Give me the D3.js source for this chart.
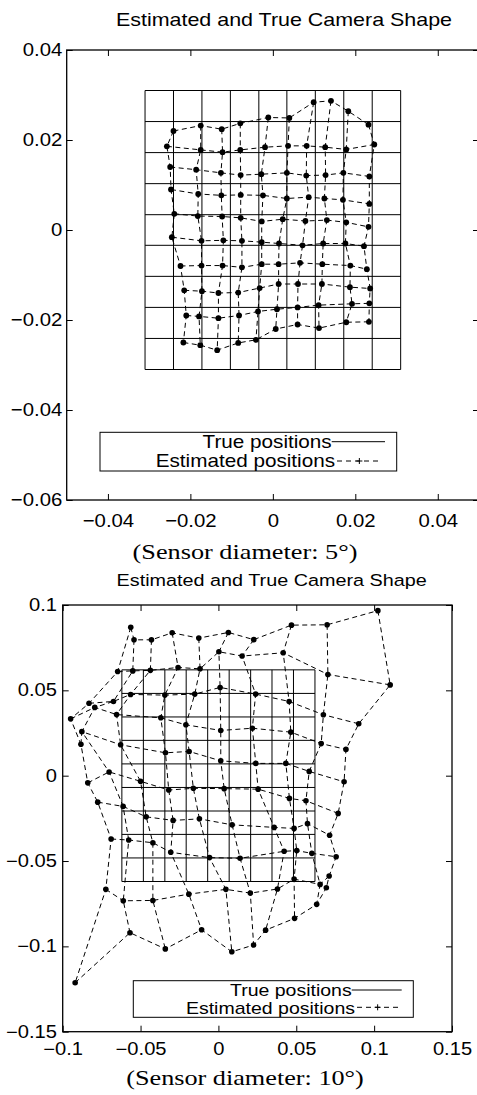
<!DOCTYPE html>
<html>
<head>
<meta charset="utf-8">
<script src="https://cdn.jsdelivr.net/npm/d3@7"></script>
<style>
  body { margin: 0; background: #fff; }
  svg { display: block; }
</style>
</head>
<body>
<svg width="477" height="1095"></svg>
<script>
// true camera positions (same values for x and y), 5 deg and 10 deg sensors
const trueGrid5 = [-0.031, -0.0241, -0.0172, -0.0103, -0.0034, 0.0034, 0.0103, 0.0172, 0.0241, 0.031];
const trueGrid10 = [-0.062, -0.0482, -0.0344, -0.0207, -0.0069, 0.0069, 0.0207, 0.0344, 0.0482, 0.062];

// estimated positions, 10 rows x 10 columns, [x, y]
const est5 = [
  [[-0.0241,0.0220],[-0.0175,0.0232],[-0.0124,0.0224],[-0.0079,0.0237],[-0.0011,0.0250],[0.0040,0.0249],[0.0099,0.0284],[0.0141,0.0287],[0.0183,0.0264],[0.0232,0.0234]],
  [[-0.0257,0.0186],[-0.0175,0.0178],[-0.0122,0.0173],[-0.0079,0.0178],[-0.0019,0.0184],[0.0037,0.0187],[0.0082,0.0187],[0.0127,0.0184],[0.0178,0.0179],[0.0246,0.0190]],
  [[-0.0249,0.0140],[-0.0186,0.0134],[-0.0126,0.0127],[-0.0078,0.0122],[-0.0028,0.0124],[0.0034,0.0127],[0.0081,0.0121],[0.0128,0.0122],[0.0171,0.0127],[0.0234,0.0119]],
  [[-0.0247,0.0090],[-0.0181,0.0080],[-0.0125,0.0077],[-0.0078,0.0078],[-0.0024,0.0077],[0.0034,0.0070],[0.0087,0.0073],[0.0125,0.0070],[0.0170,0.0067],[0.0234,0.0058]],
  [[-0.0239,0.0036],[-0.0182,0.0031],[-0.0123,0.0030],[-0.0078,0.0027],[-0.0027,0.0019],[0.0024,0.0024],[0.0079,0.0020],[0.0131,0.0022],[0.0178,0.0017],[0.0232,0.0007]],
  [[-0.0245,-0.0016],[-0.0173,-0.0024],[-0.0120,-0.0023],[-0.0075,-0.0024],[-0.0027,-0.0027],[0.0015,-0.0030],[0.0072,-0.0034],[0.0122,-0.0030],[0.0176,-0.0030],[0.0221,-0.0036]],
  [[-0.0224,-0.0080],[-0.0173,-0.0079],[-0.0122,-0.0079],[-0.0075,-0.0083],[-0.0027,-0.0076],[0.0014,-0.0076],[0.0066,-0.0073],[0.0120,-0.0076],[0.0188,-0.0079],[0.0228,-0.0087]],
  [[-0.0215,-0.0134],[-0.0172,-0.0136],[-0.0132,-0.0140],[-0.0084,-0.0139],[-0.0032,-0.0129],[0.0014,-0.0120],[0.0061,-0.0120],[0.0119,-0.0120],[0.0187,-0.0127],[0.0236,-0.0130]],
  [[-0.0210,-0.0190],[-0.0179,-0.0192],[-0.0132,-0.0196],[-0.0082,-0.0190],[-0.0036,-0.0181],[0.0010,-0.0176],[0.0060,-0.0172],[0.0111,-0.0167],[0.0192,-0.0164],[0.0234,-0.0163]],
  [[-0.0217,-0.0250],[-0.0176,-0.0256],[-0.0135,-0.0267],[-0.0084,-0.0251],[-0.0041,-0.0244],[0.0007,-0.0220],[0.0060,-0.0210],[0.0112,-0.0218],[0.0178,-0.0205],[0.0233,-0.0204]]
];

const est10 = [
  [[-0.0563,0.0869],[-0.0542,0.0796],[-0.0430,0.0796],[-0.0297,0.0837],[-0.0126,0.0806],[0.0064,0.0839],[0.0227,0.0797],[0.0469,0.0882],[0.0698,0.0884],[0.1024,0.0967]],
  [[-0.0647,0.0610],[-0.0550,0.0614],[-0.0437,0.0617],[-0.0259,0.0634],[-0.0118,0.0626],[0.0003,0.0726],[0.0152,0.0701],[0.0416,0.0720],[0.0703,0.0593],[0.1103,0.0532]],
  [[-0.0831,0.0424],[-0.0674,0.0435],[-0.0564,0.0476],[-0.0344,0.0472],[-0.0152,0.0478],[0.0011,0.0517],[0.0239,0.0478],[0.0454,0.0435],[0.0674,0.0357],[0.0901,0.0304]],
  [[-0.0949,0.0333],[-0.0794,0.0400],[-0.0654,0.0358],[-0.0370,0.0339],[-0.0209,0.0298],[0.0015,0.0265],[0.0218,0.0278],[0.0465,0.0255],[0.0660,0.0188],[0.0819,0.0154]],
  [[-0.0883,0.0184],[-0.0877,0.0258],[-0.0628,0.0181],[-0.0340,0.0134],[-0.0188,0.0142],[0.0015,0.0087],[0.0240,0.0072],[0.0433,0.0072],[0.0583,0.0025],[0.0807,-0.0036]],
  [[-0.0839,-0.0042],[-0.0702,0.0022],[-0.0500,-0.0033],[-0.0319,-0.0084],[-0.0161,-0.0074],[0.0037,-0.0076],[0.0255,-0.0079],[0.0456,-0.0133],[0.0562,-0.0147],[0.0769,-0.0221]],
  [[-0.0775,-0.0155],[-0.0612,-0.0180],[-0.0464,-0.0241],[-0.0291,-0.0262],[-0.0122,-0.0253],[0.0088,-0.0288],[0.0358,-0.0303],[0.0486,-0.0309],[0.0572,-0.0281],[0.0714,-0.0349]],
  [[-0.0689,-0.0371],[-0.0576,-0.0377],[-0.0421,-0.0393],[-0.0306,-0.0449],[-0.0057,-0.0480],[0.0139,-0.0484],[0.0422,-0.0443],[0.0503,-0.0439],[0.0600,-0.0455],[0.0756,-0.0475]],
  [[-0.0723,-0.0666],[-0.0611,-0.0733],[-0.0421,-0.0731],[-0.0190,-0.0694],[0.0048,-0.0666],[0.0205,-0.0688],[0.0379,-0.0664],[0.0486,-0.0606],[0.0653,-0.0637],[0.0711,-0.0588]],
  [[-0.0920,-0.1213],[-0.0568,-0.0920],[-0.0341,-0.1015],[-0.0108,-0.0903],[0.0086,-0.1032],[0.0226,-0.0992],[0.0303,-0.0905],[0.0489,-0.0836],[0.0631,-0.0754],[0.0693,-0.0657]]
];

// axes
const xTicks5 = [-0.04, -0.02, 0, 0.02, 0.04];
const xLabels5 = ["\u22120.04", "\u22120.02", "0", "0.02", "0.04"];
const yTicks5 = [-0.06, -0.04, -0.02, 0, 0.02, 0.04];
const yLabels5 = ["\u22120.06", "\u22120.04", "\u22120.02", "0", "0.02", "0.04"];
const xTicks10 = [-0.1, -0.05, 0, 0.05, 0.1, 0.15];
const xLabels10 = ["\u22120.1", "\u22120.05", "0", "0.05", "0.1", "0.15"];
const yTicks10 = [-0.15, -0.1, -0.05, 0, 0.05, 0.1];
const yLabels10 = ["\u22120.15", "\u22120.1", "\u22120.05", "0", "0.05", "0.1"];

const title = "Estimated and True Camera Shape";
const captions = ["(Sensor diameter: 5\u00b0)", "(Sensor diameter: 10\u00b0)"];
const legendLabels = ["True positions", "Estimated positions"];

const svg = d3.select("svg");
const SANS = "'Liberation Sans', Arial, Helvetica, sans-serif";
const SERIF = "'Liberation Serif', 'Times New Roman', serif";

// stretched text (the original figure is scaled wider than tall)
function stext(parent, x, y, s, size, sx, anchor, family) {
  return parent.append("g")
      .attr("transform", `translate(${x},${y}) scale(${sx},1)`)
    .append("text")
      .attr("text-anchor", anchor)
      .attr("font-size", size)
      .attr("font-family", family || SANS)
      .attr("fill", "#000")
      .text(s);
}

function drawPanel(p) {
  const x = d3.scaleLinear().domain(p.xDomain).range([p.left, p.right]);
  const y = d3.scaleLinear().domain(p.yDomain).range([p.bottom, p.top]);
  const g = svg.append("g");
  const line = d3.line().x(d => x(d[0])).y(d => y(d[1]));
  const lo = p.grid[0], hi = p.grid[p.grid.length - 1];

  // true grid (solid)
  p.grid.forEach(v => {
    g.append("path").attr("d", line([[v, lo], [v, hi]]))
      .attr("stroke", "#000").attr("stroke-width", 1).attr("fill", "none");
    g.append("path").attr("d", line([[lo, v], [hi, v]]))
      .attr("stroke", "#000").attr("stroke-width", 1).attr("fill", "none");
  });

  // estimated grid (dashed): rows then columns
  const dashed = sel => sel.attr("stroke", "#000").attr("stroke-width", 1)
    .attr("stroke-dasharray", "5,3.5").attr("fill", "none");
  p.est.forEach(row => g.append("path").attr("d", line(row)).call(dashed));
  d3.range(p.est[0].length).forEach(j => {
    g.append("path").attr("d", line(p.est.map(r => r[j]))).call(dashed);
  });

  g.selectAll("circle.est")
    .data(p.est.flat())
    .join("circle")
    .attr("class", "est")
    .attr("cx", d => x(d[0]))
    .attr("cy", d => y(d[1]))
    .attr("r", p.dot)
    .attr("fill", "#000");

  // axes: ticks inward on all four sides
  const styleAxis = (a, sx) => {
    a.select(".domain").remove();
    a.attr("font-size", p.tickSize).attr("font-family", SANS);
    a.selectAll("text").attr("fill", "#000").attr("transform", `scale(${sx},1)`);
  };
  g.append("g").attr("transform", `translate(0,${p.bottom})`)
    .call(d3.axisBottom(x).tickValues(p.xTicks).tickFormat((d, i) => p.xLabels[i])
      .tickSize(-6).tickPadding(p.xPad))
    .call(a => styleAxis(a, p.tickSx));
  g.append("g").attr("transform", `translate(0,${p.top})`)
    .call(d3.axisTop(x).tickValues(p.xTicks).tickFormat("").tickSize(-6))
    .call(a => a.select(".domain").remove());
  g.append("g").attr("transform", `translate(${p.left},0)`)
    .call(d3.axisLeft(y).tickValues(p.yTicks).tickFormat((d, i) => p.yLabels[i])
      .tickSize(-6).tickPadding(p.yPad))
    .call(a => styleAxis(a, p.tickSx));
  g.append("g").attr("transform", `translate(${p.right},0)`)
    .call(d3.axisRight(y).tickValues(p.yTicks).tickFormat("").tickSize(-6))
    .call(a => a.select(".domain").remove());

  g.append("rect")
    .attr("x", p.left).attr("y", p.top)
    .attr("width", p.right - p.left).attr("height", p.bottom - p.top)
    .attr("fill", "none").attr("stroke", "#000").attr("stroke-width", 1.3);

  // title and caption
  stext(g, p.titleX, p.titleY, title, p.titleSize, p.titleSx, "middle");
  stext(g, p.capX, p.capY, p.caption, p.capSize, p.capSx, "middle", SERIF);

  // legend
  const L = p.legend;
  g.append("rect").attr("x", L.x0).attr("y", L.y0)
    .attr("width", L.x1 - L.x0).attr("height", L.y1 - L.y0)
    .attr("fill", "#fff").attr("stroke", "#000").attr("stroke-width", 1);
  stext(g, L.textX1, L.base1, legendLabels[0], L.size, L.sx, "end");
  stext(g, L.textX2, L.base2, legendLabels[1], L.size, L.sx, "end");
  g.append("line").attr("x1", L.textX1).attr("x2", L.lineX1)
    .attr("y1", L.lineY1).attr("y2", L.lineY1)
    .attr("stroke", "#000").attr("stroke-width", 1);
  g.append("line").attr("x1", L.textX2 + 2).attr("x2", L.lineX2)
    .attr("y1", L.lineY2).attr("y2", L.lineY2)
    .attr("stroke", "#000").attr("stroke-width", 1).attr("stroke-dasharray", "5,4");
  const mx = (L.textX2 + 2 + L.lineX2) / 2;
  g.append("path")
    .attr("d", `M${mx - 3},${L.lineY2}H${mx + 3}M${mx},${L.lineY2 - 3}V${L.lineY2 + 3}`)
    .attr("stroke", "#000").attr("stroke-width", 1);
}

drawPanel({
  xDomain: [-0.05, 0.05], yDomain: [-0.06, 0.04],
  left: 66.7, right: 479, top: 50, bottom: 500,
  grid: trueGrid5, est: est5, dot: 2.9,
  xTicks: xTicks5, xLabels: xLabels5, yTicks: yTicks5, yLabels: yLabels5,
  tickSize: 18.5, tickSx: 1.1, xPad: 13.5, yPad: 4,
  titleX: 284, titleY: 26, titleSize: 18.5, titleSx: 1.16,
  caption: captions[0], capX: 245, capY: 559, capSize: 21, capSx: 1.25,
  legend: { x0: 100, y0: 432.3, x1: 396.7, y1: 471, size: 18, sx: 1.15,
    textX1: 331.7, base1: 448.3, textX2: 335, base2: 467.3,
    lineX1: 385, lineY1: 441.7, lineX2: 381.7, lineY2: 461 }
});

drawPanel({
  xDomain: [-0.1, 0.15], yDomain: [-0.15, 0.1],
  left: 62.7, right: 452, top: 605, bottom: 1031.7,
  grid: trueGrid10, est: est10, dot: 2.8,
  xTicks: xTicks10, xLabels: xLabels10, yTicks: yTicks10, yLabels: yLabels10,
  tickSize: 17.5, tickSx: 1.15, xPad: 11, yPad: 5,
  titleX: 271.7, titleY: 585.7, titleSize: 16.5, titleSx: 1.2,
  caption: captions[1], capX: 245, capY: 1085, capSize: 21.5, capSx: 1.22,
  legend: { x0: 133.3, y0: 980.7, x1: 413.3, y1: 1017.3, size: 16, sx: 1.22,
    textX1: 351.7, base1: 995.7, textX2: 355, base2: 1014,
    lineX1: 401.7, lineY1: 990, lineX2: 398.3, lineY2: 1007.3 }
});
</script>
</body>
</html>
